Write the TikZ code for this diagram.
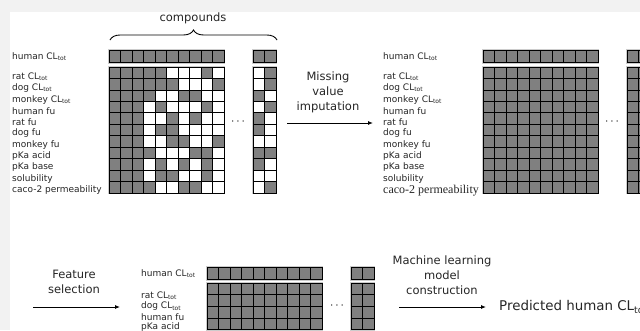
\documentclass[tikz,border=0pt]{standalone}
\usepackage{fontspec}
\setmainfont{DejaVu Sans}
\newfontfamily\timesf{Liberation Serif}
\usetikzlibrary{arrows.meta,decorations.pathreplacing}
\definecolor{cellg}{RGB}{128,128,128}
\colorlet{c1}{cellg}
\colorlet{c0}{white}
\definecolor{bgg}{RGB}{242,242,242}
\newcommand\CLt{CL\textsubscript{tot}}
\def\rh{11.45}
% #1 x0, #2 y of top bar, #3 y of main block, #4 number of rows, #5 row list
\newcommand\mymat[5]{%
  \draw[halo] (#1,#2) rectangle ++(115,12);
  \draw[halo] (#1+144,#2) rectangle ++(23,12);
  \draw[halo] (#1,#3) rectangle ++(115,#4*\rh);
  \draw[halo] (#1+144,#3) rectangle ++(23,#4*\rh);
  \foreach \c in {0,...,11}{
    \pgfmathsetmacro\cx{\c<10 ? #1+\c*11.5 : #1+144+(\c-10)*11.5}
    \filldraw[cell,fill=cellg] (\cx,#2) rectangle ++(11.5,12);
  }
  \foreach \row [count=\r from 0] in {#5}{
    \foreach \v [count=\c from 0] in \row {
      \pgfmathsetmacro\cx{\c<10 ? #1+\c*11.5 : #1+144+(\c-10)*11.5}
      \filldraw[cell,fill=c\v] (\cx,#3+\r*\rh) rectangle ++(11.5,\rh);
    }
  }
}
\tikzset{
  lab/.style={anchor=west, font=\fontsize{9}{10}\selectfont, text=black!85, inner sep=0pt},
  big/.style={font=\fontsize{11.5}{15}\selectfont, align=center, inner sep=0pt, text=black!85},
  cell/.style={draw=black, line width=0.8pt},
  halo/.style={draw=gray!40, line width=2.4pt},
  flow/.style={-{Latex[length=5pt,width=4pt]}, line width=0.9pt},
  dotsn/.style={font=\fontsize{12}{12}\selectfont, inner sep=0pt},
}
\begin{document}
\begin{tikzpicture}[x=1pt,y=-1pt]
\useasboundingbox (0,0) rectangle (640,330);
\clip (0,0) rectangle (640,330);
\fill[bgg] (0,0) rectangle (640,330);
\fill[white] (10,12) rectangle (640,330);

% ---- top-left matrix
\node[big] (comp) at (193,18) {compounds};
\draw[line width=0.9pt, decorate, decoration={brace, amplitude=10pt}] (110,40) -- (277,40);
\mymat{109}{50.5}{67}{11}{
 {1,1,1,1,1,0,0,0,1,0,0,1},
 {1,1,1,1,1,1,0,0,0,1,0,1},
 {1,1,1,1,0,0,1,1,0,0,1,0},
 {1,1,1,0,1,0,0,0,1,0,0,1},
 {1,1,1,0,0,1,0,1,0,0,1,0},
 {1,1,1,0,1,1,0,0,0,0,1,0},
 {1,1,1,0,0,1,1,0,0,1,0,0},
 {1,1,1,1,0,0,0,1,1,0,1,1},
 {1,1,1,0,1,0,1,0,1,0,1,0},
 {1,1,1,0,1,1,0,0,1,0,0,0},
 {1,1,1,1,0,0,1,1,0,0,0,1}}
\node[dotsn] (d1) at (238,122) {$\cdots$};

\node[lab] (l0) at (12,57) {human \CLt};
\node[lab] (l1) at (12,77) {rat \CLt};
\node[lab] (l2) at (12,88.3) {dog \CLt};
\node[lab] (l3) at (12,99.6) {monkey \CLt};
\node[lab] (l4) at (12,110.9) {human fu};
\node[lab] (l5) at (12,122.2) {rat fu};
\node[lab] (l6) at (12,133.5) {dog fu};
\node[lab] (l7) at (12,144.8) {monkey fu};
\node[lab] (l8) at (12,156.1) {pKa acid};
\node[lab] (l9) at (12,167.4) {pKa base};
\node[lab] (l10) at (12,178.7) {solubility};
\node[lab] (l11) at (12,190) {caco-2 permeability};

% ---- arrow 1
\node[big] (t1) at (328,92) {Missing\\value\\imputation};
\coordinate (a1s) at (287,123);
\coordinate (a1e) at (373,123);
\draw[flow] (a1s) -- (a1e);

% ---- top-right matrix
\mymat{483}{50.5}{67}{11}{
 {1,1,1,1,1,1,1,1,1,1,1,1},
 {1,1,1,1,1,1,1,1,1,1,1,1},
 {1,1,1,1,1,1,1,1,1,1,1,1},
 {1,1,1,1,1,1,1,1,1,1,1,1},
 {1,1,1,1,1,1,1,1,1,1,1,1},
 {1,1,1,1,1,1,1,1,1,1,1,1},
 {1,1,1,1,1,1,1,1,1,1,1,1},
 {1,1,1,1,1,1,1,1,1,1,1,1},
 {1,1,1,1,1,1,1,1,1,1,1,1},
 {1,1,1,1,1,1,1,1,1,1,1,1},
 {1,1,1,1,1,1,1,1,1,1,1,1}}
\node[dotsn] (d2) at (612,122) {$\cdots$};
\node[lab] (r0) at (383,57) {human \CLt};
\node[lab] (r1) at (383,77) {rat \CLt};
\node[lab] (r2) at (383,88.3) {dog \CLt};
\node[lab] (r3) at (383,99.6) {monkey \CLt};
\node[lab] (r4) at (383,110.9) {human fu};
\node[lab] (r5) at (383,122.2) {rat fu};
\node[lab] (r6) at (383,133.5) {dog fu};
\node[lab] (r7) at (383,144.8) {monkey fu};
\node[lab] (r8) at (383,156.1) {pKa acid};
\node[lab] (r9) at (383,167.4) {pKa base};
\node[lab] (r10) at (383,178.7) {solubility};
\node[lab, font=\timesf\fontsize{12}{12}\selectfont] (r11) at (383,191) {caco-2 permeability};

% ---- bottom row
\node[big] (t2) at (74,282) {Feature\\selection};
\coordinate (a2s) at (33,307);
\coordinate (a2e) at (120,307);
\draw[flow] (a2s) -- (a2e);

\def\rh{11.7}
\mymat{207}{267.5}{283}{4}{
 {1,1,1,1,1,1,1,1,1,1,1,1},
 {1,1,1,1,1,1,1,1,1,1,1,1},
 {1,1,1,1,1,1,1,1,1,1,1,1},
 {1,1,1,1,1,1,1,1,1,1,1,1}}
\node[dotsn] (d3) at (337,306) {$\cdots$};
\node[lab] (b0) at (141,274) {human \CLt};
\node[lab] (b1) at (141,296) {rat \CLt};
\node[lab] (b2) at (141,306.5) {dog \CLt};
\node[lab] (b3) at (141,317) {human fu};
\node[lab] (b4) at (141,327.5) {pKa acid};

\node[big] (t3) at (442,275) {Machine learning\\model\\construction};
\coordinate (a3s) at (399,307);
\coordinate (a3e) at (486,307);
\draw[flow] (a3s) -- (a3e);
\node[anchor=west, inner sep=0pt, font=\fontsize{13.4}{15}\selectfont, text=black!85] (pred) at (499,307) {Predicted human \CLt};
\end{tikzpicture}
\end{document}
